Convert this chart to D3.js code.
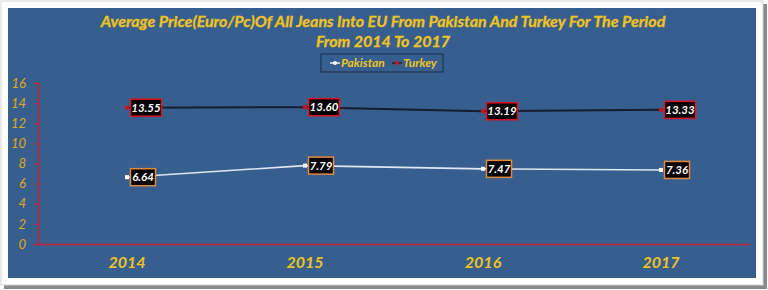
<!DOCTYPE html>
<html>
<head>
<meta charset="utf-8">
<script src="https://d3js.org/d3.v7.min.js"></script>
<style>
    body { margin: 0; background: #ffffff; }
    svg text { font-family: Lato, "Open Sans", sans-serif; font-style: italic; font-weight: bold; }
</style>
</head>
<body>
<div id="chart"></div>
<script>
var years = ["2014", "2015", "2016", "2017"];
var pakistan = [6.64, 7.79, 7.47, 7.36];
var turkey = [13.55, 13.60, 13.19, 13.33];
var y_ticks = [0, 2, 4, 6, 8, 10, 12, 14, 16];
var title_lines = ["Average Price(Euro/Pc)Of All Jeans Into EU From Pakistan And Turkey For The Period", "From 2014 To 2017"];
var series_names = ["Pakistan", "Turkey"];

var width = 768;
var height = 290;
var gold = "#f2c31b";
var axis_red = "#c8202e";

var svg = d3.select("#chart").append("svg")
    .attr("width", width)
    .attr("height", height);

// frame + shadow
svg.append("rect")
    .attr("x", 4).attr("y", 4).attr("width", 763).attr("height", 285)
    .style("fill", "#8a8a8a");
svg.append("rect")
    .attr("x", 1).attr("y", 1).attr("width", 762).attr("height", 284)
    .style("fill", "#ffffff")
    .style("stroke", "#d6d6d6")
    .style("stroke-width", 1);
svg.append("rect")
    .attr("x", 8).attr("y", 8).attr("width", 748).attr("height", 270)
    .style("fill", "#365f90");

// title
svg.selectAll(".title")
    .data(title_lines)
    .enter().append("text")
    .attr("class", "title")
    .attr("x", 383)
    .attr("y", function(d, i) { return 27 + i * 20; })
    .attr("text-anchor", "middle")
    .style("font-size", "16px")
    .style("fill", gold)
    .style("stroke", gold)
    .style("stroke-width", 0.3)
    .text(function(d) { return d; });

// legend
var legend = svg.append("g");
legend.append("rect")
    .attr("x", 321).attr("y", 54).attr("width", 122).attr("height", 18)
    .style("fill", "none")
    .style("stroke", "#1b2a42")
    .style("stroke-width", 1);

var legend_x = [330, 392];
var legend_line = ["#e6ecf4", "#1a2233"];
var legend_dot = ["#ffffff", "#d0101c"];
series_names.forEach(function(name, i) {
    legend.append("line")
        .attr("x1", legend_x[i]).attr("x2", legend_x[i] + 10)
        .attr("y1", 63).attr("y2", 63)
        .style("stroke", legend_line[i])
        .style("stroke-width", 1.5);
    legend.append("circle")
        .attr("cx", legend_x[i] + 5).attr("cy", 63).attr("r", 2)
        .style("fill", legend_dot[i]);
    legend.append("text")
        .attr("x", legend_x[i] + 11)
        .attr("y", 67)
        .style("font-size", "12px")
        .style("fill", gold)
        .text(name);
});

// scales
var x = d3.scaleBand()
    .domain(years)
    .range([38, 750]);

var y = d3.scaleLinear()
    .domain([0, 16])
    .range([244, 83]);

// y axis
var yAxis = svg.append("g")
    .attr("transform", "translate(38,0)")
    .call(d3.axisLeft(y).tickValues(y_ticks).tickSize(4).tickPadding(8));
yAxis.select(".domain").style("stroke", axis_red).style("stroke-width", 1.5);
yAxis.selectAll(".tick line").style("stroke", axis_red);
yAxis.selectAll(".tick text")
    .style("font-size", "13px")
    .style("fill", "#e0a814")
    .style("font-weight", "normal");

// x axis
var xAxis = svg.append("g")
    .attr("transform", "translate(0,244)")
    .call(d3.axisBottom(x).tickSize(0).tickPadding(13).tickSizeOuter(0));
xAxis.select(".domain").style("stroke", axis_red).style("stroke-width", 1.5);
xAxis.selectAll(".tick text")
    .style("font-size", "16px")
    .style("fill", gold);

// ----------
function cx(d, i) { return x(years[i]) + x.bandwidth() / 2; }

var series = [
    { name: "Turkey", values: turkey, line: "#161e2e", lw: 2, marker: "#d0101c", border: "#e0101c" },
    { name: "Pakistan", values: pakistan, line: "#dfe7f1", lw: 1.6, marker: "#ffffff", border: "#e48a3c" }
];

series.forEach(function(s) {
    var line = d3.line()
        .x(cx)
        .y(function(d) { return y(d); });

    svg.append("path")
        .datum(s.values)
        .attr("d", line)
        .style("fill", "none")
        .style("stroke", s.line)
        .style("stroke-width", s.lw);

    svg.selectAll(".marker-" + s.name)
        .data(s.values)
        .enter().append("rect")
        .attr("x", function(d, i) { return cx(d, i) - 2; })
        .attr("y", function(d) { return y(d) - 2; })
        .attr("width", 4).attr("height", 4)
        .style("fill", s.marker);

    var labels = svg.selectAll(".label-" + s.name)
        .data(s.values)
        .enter().append("g")
        .attr("transform", function(d, i) { return "translate(" + (cx(d, i) + 2) + "," + y(d) + ")"; });

    labels.append("rect")
        .attr("x", 1.5)
        .attr("y", -8.5)
        .attr("width", function(d) { return d >= 10 ? 31 : 25; })
        .attr("height", 17)
        .style("fill", "#000000")
        .style("stroke", s.border)
        .style("stroke-width", 1.5);

    labels.append("text")
        .attr("x", function(d) { return d >= 10 ? 17 : 14; })
        .attr("y", 4)
        .attr("text-anchor", "middle")
        .style("font-size", "11.5px")
        .style("fill", "#ffffff")
        .text(function(d) { return d.toFixed(2); });
});
</script>
</body>
</html>
